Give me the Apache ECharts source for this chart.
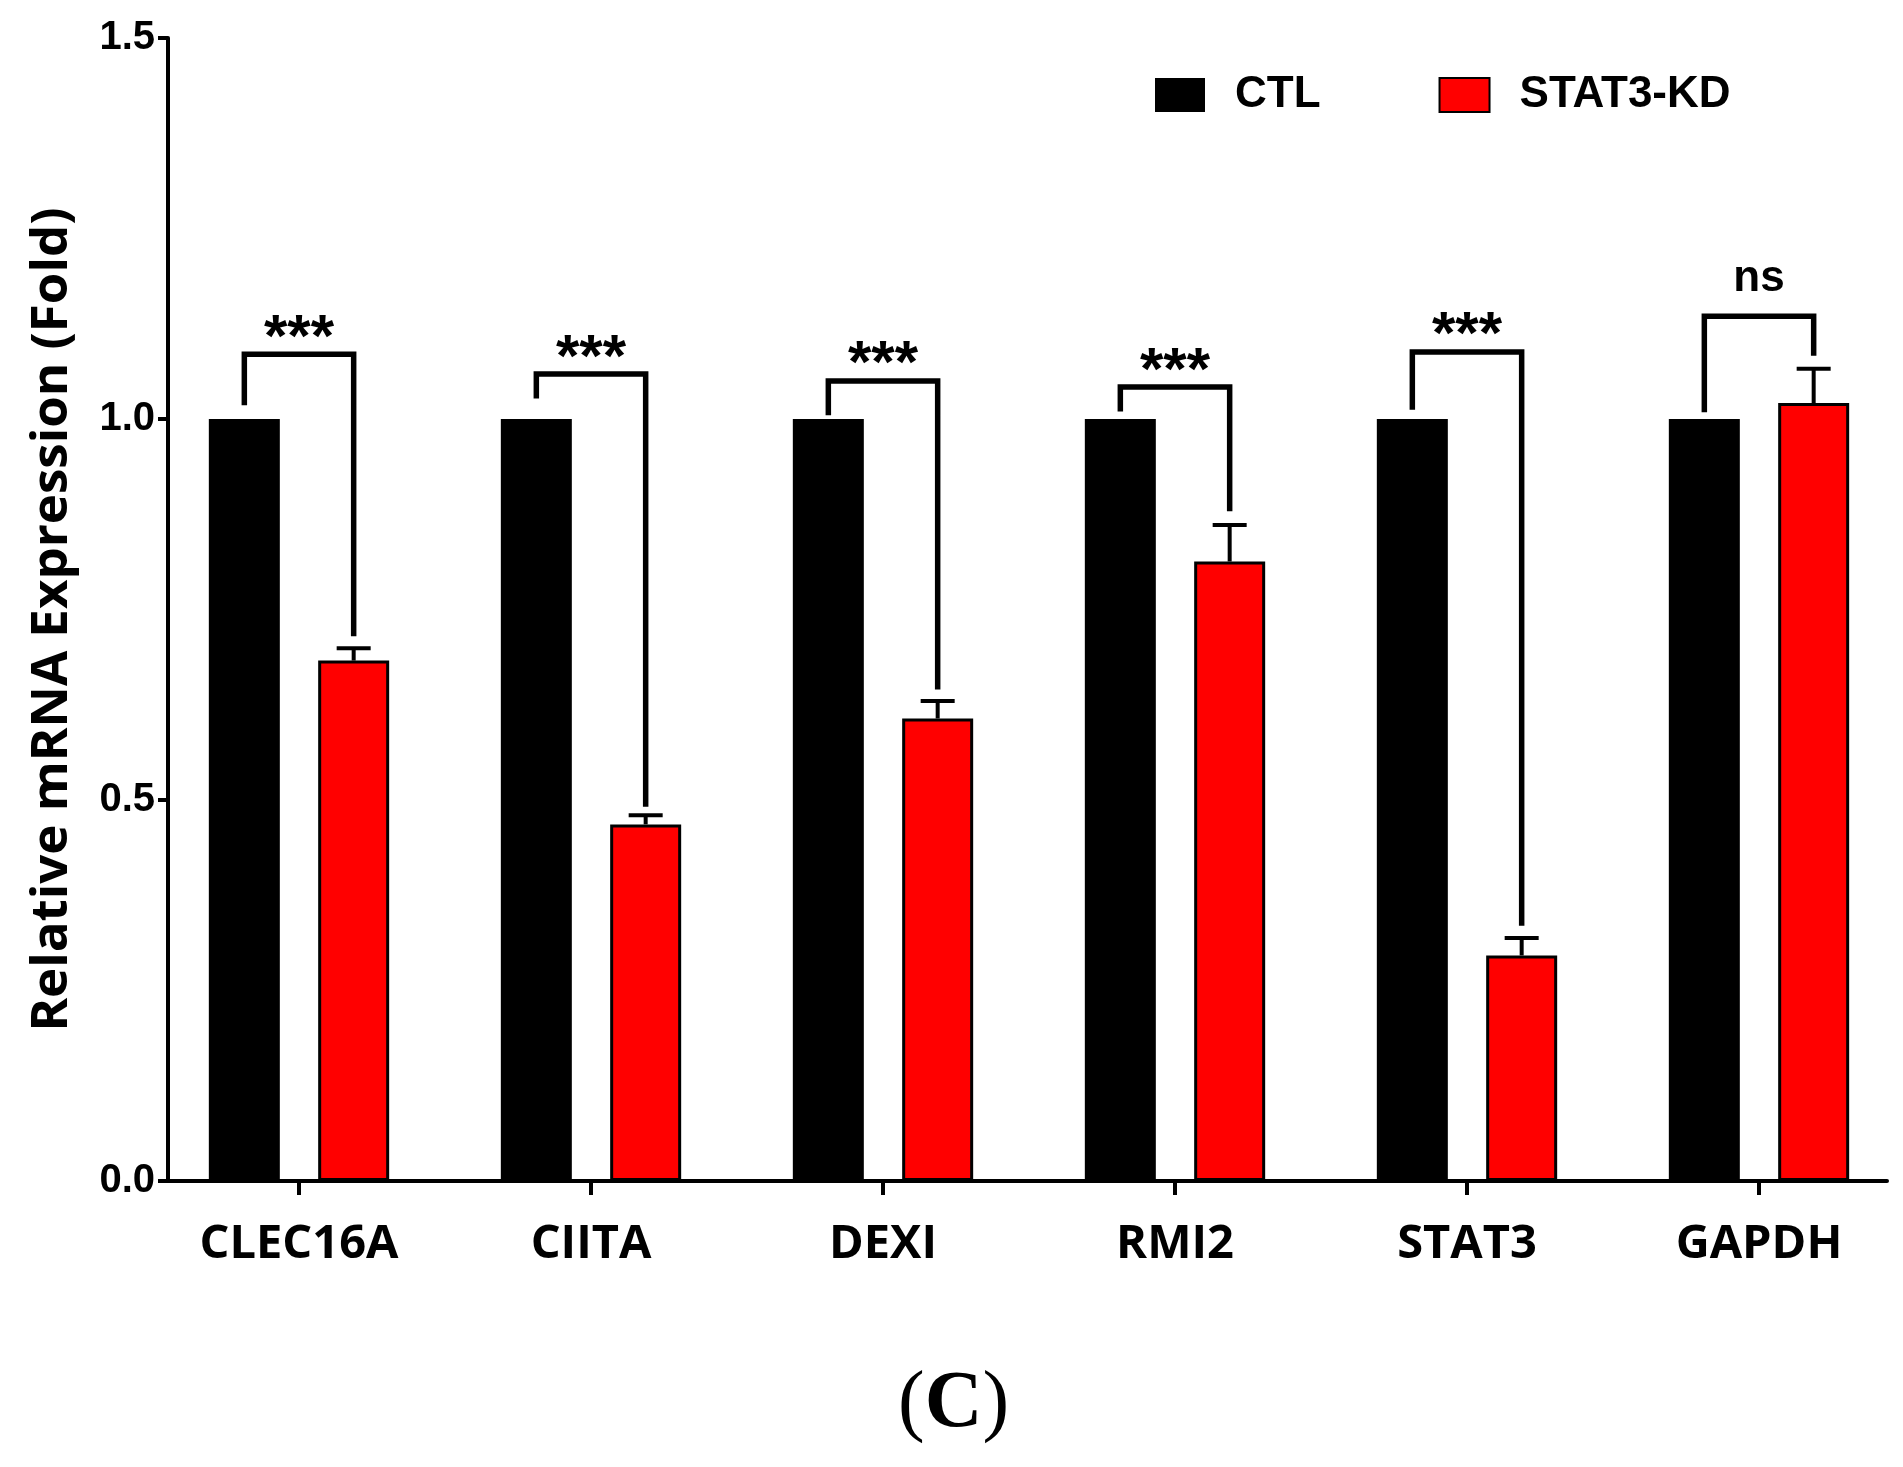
<!DOCTYPE html>
<html><head><meta charset="utf-8">
<script src="https://cdn.jsdelivr.net/npm/echarts@6/dist/echarts.min.js"></script>
<style>html,body{margin:0;padding:0;background:#fff}#c{width:1903px;height:1467px}</style>
</head><body><div id="c"></div>
<script>
// ---- data ----
const genes = ['CLEC16A', 'CIITA', 'DEXI', 'RMI2', 'STAT3', 'GAPDH'];
const ctlValues = [1, 1, 1, 1, 1, 1];
const kdValues = [0.683, 0.468, 0.607, 0.813, 0.296, 1.021];
const kdErrorTop = [0.699, 0.480, 0.630, 0.861, 0.319, 1.066];
const bracketTop = [1.085, 1.059, 1.050, 1.042, 1.088, 1.135];
const bracketLeftEnd = [1.018, 1.027, 1.005, 1.010, 1.012, 1.009];
const bracketRightEnd = [0.715, 0.491, 0.645, 0.879, 0.335, 1.083];
const sigLabels = ['***', '***', '***', '***', '***', 'ns'];
const yMin = 0, yMax = 1.5, yStep = 0.5;
const seriesNames = ['CTL', 'STAT3-KD'];

// ---- style constants ----
const BAR_W = 71, BAR_GAP = 0.54;
const OFFSET = BAR_W * (1 + BAR_GAP) / 2;
const SANS = "'Liberation Sans', Arial, sans-serif";
const LABEL_FONT = "'Open Sans', 'Noto Sans', sans-serif";
const SERIF = "'Liberation Serif', 'Times New Roman', serif";

const chart = echarts.init(document.getElementById('c'), null, {renderer: 'canvas'});

const errorData = genes.map((g, i) => [i, kdValues[i], kdErrorTop[i]]);
const bracketData = genes.map((g, i) => [i, bracketLeftEnd[i], bracketTop[i], bracketRightEnd[i]]);

const option = {
  animation: false,
  backgroundColor: '#fff',
  title: {
    text: '{p|(}{c|C}{p|)}',
    left: 893, top: 1360,
    textStyle: {
      rich: {
        p: {fontFamily: SERIF, fontSize: 80, fontWeight: 'normal', color: '#000'},
        c: {fontFamily: SERIF, fontSize: 80, fontWeight: 'bold', color: '#000'}
      }
    }
  },
  legend: {
    data: seriesNames,
    left: 1150, top: 68,
    itemWidth: 50, itemHeight: 34, itemGap: 118,
    icon: 'rect',
    textStyle: {fontFamily: SANS, fontWeight: 'bold', fontSize: 44, color: '#000', padding: [0, 0, 0, 25]}
  },
  grid: [
    {left: 153, width: 1752, top: 38, bottom: 286, outerBoundsMode: 'none', containLabel: false},
    {left: 168, right: 16, top: 38, bottom: 286, outerBoundsMode: 'none', containLabel: false}
  ],
  xAxis: [
    {
      gridIndex: 0, type: 'category', data: genes,
      axisLine: {show: false},
      axisTick: {show: true, alignWithLabel: true, length: 14, lineStyle: {color: '#000', width: 4}},
      axisLabel: {fontFamily: LABEL_FONT, fontWeight: 'bold', fontSize: 47, color: '#000', margin: 40},
      splitLine: {show: false}
    },
    {
      gridIndex: 1, type: 'value', min: 0, max: 1,
      axisLine: {show: true, lineStyle: {color: '#000', width: 4}},
      axisTick: {show: false}, axisLabel: {show: false}, splitLine: {show: false}
    }
  ],
  yAxis: [
    {gridIndex: 0, type: 'value', min: yMin, max: yMax, interval: yStep, show: false, splitLine: {show: false}},
    {
      gridIndex: 1, type: 'value', min: yMin, max: yMax, interval: yStep,
      name: 'Relative mRNA Expression (Fold)',
      nameLocation: 'middle', nameGap: 90,
      nameTextStyle: {fontFamily: LABEL_FONT, fontWeight: 'bold', fontSize: 51, color: '#000', padding: [0, 20, 0, 0]},
      axisLine: {show: true, lineStyle: {color: '#000', width: 4}},
      axisTick: {show: true, length: 10, lineStyle: {color: '#000', width: 4}},
      axisLabel: {fontFamily: SANS, fontWeight: 'bold', fontSize: 40, color: '#000', margin: 13,
        formatter: v => v.toFixed(1)},
      splitLine: {show: false}
    }
  ],
  series: [
    {
      type: 'bar', name: seriesNames[0], xAxisIndex: 0, yAxisIndex: 0,
      data: ctlValues, barWidth: BAR_W, barGap: (BAR_GAP * 100) + '%',
      itemStyle: {color: '#000'}
    },
    {
      type: 'bar', name: seriesNames[1], xAxisIndex: 0, yAxisIndex: 0,
      data: kdValues, barWidth: BAR_W,
      itemStyle: {color: '#ff0000', borderColor: '#000', borderWidth: 3}
    },
    {
      type: 'custom', name: 'err', xAxisIndex: 0, yAxisIndex: 0, z: 3,
      data: errorData,
      renderItem: function (params, api) {
        const i = api.value(0);
        const b = api.coord([i, api.value(1)]);
        const t = api.coord([i, api.value(2)]);
        const x = b[0] + OFFSET;
        return {
          type: 'group', children: [
            {type: 'line', shape: {x1: x, y1: b[1], x2: x, y2: t[1]}, style: {stroke: '#000', lineWidth: 4}},
            {type: 'line', shape: {x1: x - 17, y1: t[1], x2: x + 17, y2: t[1]}, style: {stroke: '#000', lineWidth: 4}}
          ]
        };
      }
    },
    {
      type: 'custom', name: 'sig', xAxisIndex: 0, yAxisIndex: 0, z: 3,
      data: bracketData,
      renderItem: function (params, api) {
        const i = api.value(0);
        const c = api.coord([i, api.value(2)]);
        const l = api.coord([i, api.value(1)]);
        const r = api.coord([i, api.value(3)]);
        const xl = c[0] - OFFSET, xr = c[0] + OFFSET;
        const lbl = sigLabels[params.dataIndex];
        const isStar = lbl.indexOf('*') >= 0;
        return {
          type: 'group', children: [
            {type: 'polyline', shape: {points: [[xl, l[1]], [xl, c[1]], [xr, c[1]], [xr, r[1]]]},
              style: {stroke: '#000', lineWidth: 5.5, fill: 'none', lineJoin: 'miter'}},
            {type: 'text', x: c[0], y: c[1] - (isStar ? 15 : 37),
              style: {text: lbl, fill: '#000', fontFamily: SANS, fontWeight: 'bold',
                fontSize: isStar ? 60 : 44, align: 'center', verticalAlign: 'middle'}}
          ]
        };
      }
    }
  ]
};
chart.setOption(option);
</script>
</body></html>
